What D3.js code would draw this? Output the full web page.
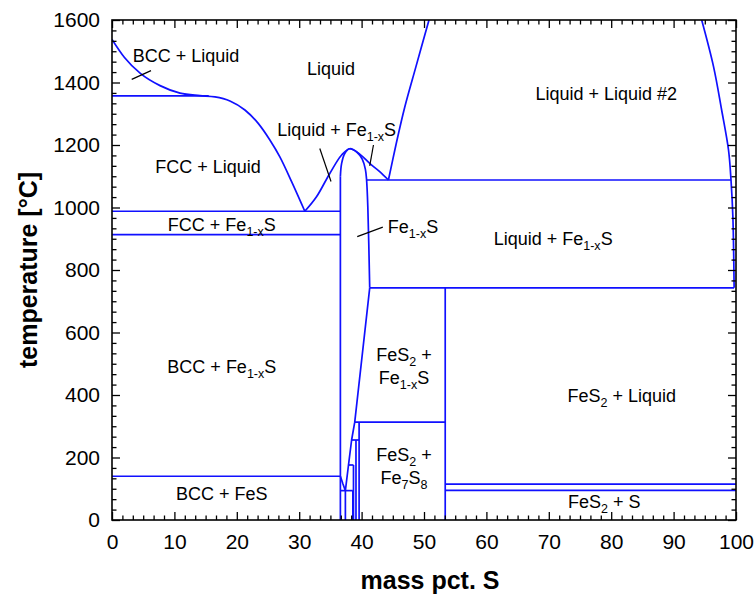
<!DOCTYPE html>
<html>
<head>
<meta charset="utf-8">
<script src="https://cdn.jsdelivr.net/npm/d3@7"></script>
<style>
  html, body { margin: 0; padding: 0; background: #fff; }
  svg { display: block; }
  text { font-family: "Liberation Sans", Arial, sans-serif; fill: #000; }
</style>
</head>
<body>
<svg id="chart" width="755" height="597"></svg>
<script>
// Fe–S phase diagram: composition in mass pct. S, temperature in °C

// axis ticks
const xTicks = [0, 10, 20, 30, 40, 50, 60, 70, 80, 90, 100];
const yTicks = [0, 200, 400, 600, 800, 1000, 1200, 1400, 1600];

// liquidus of the iron-rich liquid (BCC then FCC), down to the eutectic
const ironLiquidus = [[0,1538],[2,1480],[4.5,1430],[7.7,1390],[10.9,1366],[14.1,1358],[16.5,1354],
  [18.9,1341],[21.3,1312],[23.4,1270],[25.3,1216],[26.9,1162],[28.8,1082],[30.9,988]];

// liquidus of Fe1-xS (congruent maximum near 1188 °C)
const sulfideLiquidus = [[30.9,988],[32.8,1035],[34.9,1109],[36.8,1168],[38.1,1188],
  [39.7,1171],[41.3,1141],[42.9,1115],[44.3,1088]];

// solidus cap of Fe1-xS
const sulfideSolidus = [[36.6,1100],[36.8,1141],[37.3,1173],[38.1,1188],[39.3,1176],
  [40.1,1155],[40.6,1123],[40.8,1088],[41.0,1000],[41.3,743]];

// sulfur-rich limit of Fe1-xS below 743 °C
const sulfideSRich = [[41.3,743],[38.9,313],[38.4,256],[37.9,176],[37.4,94]];

// iron-rich limit of the low-temperature sulfide below 140 °C
const sulfideLow = [[36.6,140],[37.0,116],[37.4,94]];

// liquid miscibility gap
const gapLeft = [[44.3,1088],[45.5,1200],[46.9,1320],[48.7,1450],[50.8,1600]];
const gapRight = [[94.5,1600],[96.4,1451],[97.7,1312],[98.8,1184],[99.2,1088],[99.5,970],[99.7,743]];

// invariant horizontals: [x from, x to, temperature]
const isotherms = [
  [0, 15.5, 1357],
  [0, 36.6, 988],
  [0, 36.6, 913],
  [0, 36.6, 140],
  [40.8, 99.2, 1088],
  [41.3, 99.7, 743],
  [38.9, 53.4, 313],
  [38.4, 39.6, 256],
  [37.9, 38.7, 176],
  [36.6, 38.6, 94],
  [53.4, 100, 115],
  [53.4, 100, 95]
];

// phase limits at fixed composition: [x, T from, T to]
const isopleths = [
  [36.6, 0, 1100],
  [37.4, 0, 94],
  [38.6, 0, 94],
  [38.7, 0, 176],
  [39.1, 0, 256],
  [39.6, 0, 313],
  [53.4, 0, 743]
];

// phase field names; parts flagged "sub" are subscripts
const fieldLabels = [
  {x: 11.86, t: 1466, anchor: "middle", parts: [["BCC + Liquid"]]},
  {x: 35.1,  t: 1424, anchor: "middle", parts: [["Liquid"]]},
  {x: 79.2,  t: 1344, anchor: "middle", parts: [["Liquid + Liquid #2"]]},
  {x: 36.0,  t: 1228, anchor: "middle", parts: [["Liquid + Fe"],["1-x","sub"],["S"]]},
  {x: 15.4,  t: 1110, anchor: "middle", parts: [["FCC + Liquid"]]},
  {x: 17.6,  t: 925,  anchor: "middle", parts: [["FCC + Fe"],["1-x","sub"],["S"]]},
  {x: 44.2,  t: 918,  anchor: "start",  parts: [["Fe"],["1-x","sub"],["S"]]},
  {x: 70.7,  t: 880,  anchor: "middle", parts: [["Liquid + Fe"],["1-x","sub"],["S"]]},
  {x: 17.6,  t: 470,  anchor: "middle", parts: [["BCC + Fe"],["1-x","sub"],["S"]]},
  {x: 46.8,  t: 509,  anchor: "middle", parts: [["FeS"],["2","sub"],[" +"]]},
  {x: 46.8,  t: 435,  anchor: "middle", parts: [["Fe"],["1-x","sub"],["S"]]},
  {x: 81.7,  t: 378,  anchor: "middle", parts: [["FeS"],["2","sub"],[" + Liquid"]]},
  {x: 46.8,  t: 190,  anchor: "middle", parts: [["FeS"],["2","sub"],[" +"]]},
  {x: 46.8,  t: 116,  anchor: "middle", parts: [["Fe"],["7","sub"],["S"],["8","sub"]]},
  {x: 17.6,  t: 64,   anchor: "middle", parts: [["BCC + FeS"]]},
  {x: 78.9,  t: 38,   anchor: "middle", parts: [["FeS"],["2","sub"],[" + S"]]}
];

// leader lines tying labels to narrow fields
const leaders = [
  [[3.16,1410],[6.25,1438]],
  [[33.3,1189],[35.1,1083]],
  [[41.9,1200],[41.3,1133]],
  [[39.3,907],[43.4,937]]
];

const m = {left: 112, right: 736, top: 20, bottom: 520};
const svg = d3.select("#chart");

const x = d3.scaleLinear().domain([0, 100]).range([m.left, m.right]);
const y = d3.scaleLinear().domain([0, 1600]).range([m.bottom, m.top]);

svg.append("defs").append("clipPath").attr("id", "plot")
  .append("rect").attr("x", m.left).attr("y", m.top)
  .attr("width", m.right - m.left).attr("height", m.bottom - m.top);

const g = svg.append("g").attr("clip-path", "url(#plot)");
const blue = "#1010ff";
const lw = 1.7;

const lineLin = d3.line().x(d => x(d[0])).y(d => y(d[1]));
const lineSmooth = d3.line().x(d => x(d[0])).y(d => y(d[1])).curve(d3.curveMonotoneX);
const lineCR = d3.line().x(d => x(d[0])).y(d => y(d[1])).curve(d3.curveCatmullRom.alpha(0.5));

function path(data, gen) {
  g.append("path").attr("d", gen(data)).attr("fill", "none")
    .attr("stroke", blue).attr("stroke-width", lw).attr("stroke-linejoin", "round");
}

isotherms.forEach(([a, b, t]) => path([[a, t], [b, t]], lineLin));
isopleths.forEach(([c, t0, t1]) => path([[c, t0], [c, t1]], lineLin));
path(ironLiquidus, lineSmooth);
path(sulfideLiquidus, lineSmooth);
path(sulfideSolidus, lineCR);
path(sulfideSRich, lineLin);
path(sulfideLow, lineLin);
path(gapLeft, lineCR);
path(gapRight, lineCR);

// leaders
leaders.forEach(l => svg.append("path").attr("d", lineLin(l))
  .attr("stroke", "#000").attr("stroke-width", 1.2).attr("fill", "none"));

// field names
const fs = 18, subFs = 12.5, subDy = 5;
fieldLabels.forEach(lb => {
  const t = svg.append("text").attr("x", x(lb.x)).attr("y", y(lb.t))
    .attr("text-anchor", lb.anchor).attr("font-size", fs);
  let shifted = false;
  lb.parts.forEach(([s, kind]) => {
    const sp = t.append("tspan").text(s);
    if (kind === "sub") {
      sp.attr("font-size", subFs).attr("dy", shifted ? 0 : subDy);
      shifted = true;
    } else {
      if (shifted) sp.attr("dy", -subDy);
      shifted = false;
    }
  });
});

// axes with inward ticks on all sides
const minorX = d3.range(0, 100.001, 10 / 6).filter(v => Math.abs(v / 10 - Math.round(v / 10)) > 1e-6);
const minorY = d3.range(0, 1600.001, 200 / 6).filter(v => Math.abs(v / 200 - Math.round(v / 200)) > 1e-6);
const major = 8, minor = 4.5;

function styleAxis(sel) {
  sel.select(".domain").remove();
  sel.selectAll(".tick line").attr("stroke", "#000").attr("stroke-width", 1.3);
  sel.selectAll("text").attr("font-size", 21).attr("fill", "#000")
    .attr("font-family", "'Liberation Sans', Arial, sans-serif");
}

svg.append("g").attr("transform", `translate(0,${m.bottom})`)
  .call(d3.axisBottom(x).tickValues(xTicks).tickSize(-major).tickPadding(14).tickFormat(d3.format("d")))
  .call(styleAxis);
svg.append("g").attr("transform", `translate(0,${m.bottom})`)
  .call(d3.axisBottom(x).tickValues(minorX).tickSize(-minor).tickFormat(""))
  .call(styleAxis);
svg.append("g").attr("transform", `translate(0,${m.top})`)
  .call(d3.axisTop(x).tickValues(xTicks).tickSize(-major).tickFormat(""))
  .call(styleAxis);
svg.append("g").attr("transform", `translate(0,${m.top})`)
  .call(d3.axisTop(x).tickValues(minorX).tickSize(-minor).tickFormat(""))
  .call(styleAxis);

svg.append("g").attr("transform", `translate(${m.left},0)`)
  .call(d3.axisLeft(y).tickValues(yTicks).tickSize(-major).tickPadding(12).tickFormat(d3.format("d")))
  .call(styleAxis);
svg.append("g").attr("transform", `translate(${m.left},0)`)
  .call(d3.axisLeft(y).tickValues(minorY).tickSize(-minor).tickFormat(""))
  .call(styleAxis);
svg.append("g").attr("transform", `translate(${m.right},0)`)
  .call(d3.axisRight(y).tickValues(yTicks).tickSize(-major).tickFormat(""))
  .call(styleAxis);
svg.append("g").attr("transform", `translate(${m.right},0)`)
  .call(d3.axisRight(y).tickValues(minorY).tickSize(-minor).tickFormat(""))
  .call(styleAxis);

// frame
svg.append("rect").attr("x", m.left).attr("y", m.top)
  .attr("width", m.right - m.left).attr("height", m.bottom - m.top)
  .attr("fill", "none").attr("stroke", "#000").attr("stroke-width", 1.6);

// axis titles
svg.append("text").attr("x", (m.left + m.right) / 2 + 6).attr("y", 589)
  .attr("text-anchor", "middle").attr("font-size", 25).attr("font-weight", "bold")
  .text("mass pct. S");
svg.append("text").attr("transform", `translate(37,${(m.top + m.bottom) / 2}) rotate(-90)`)
  .attr("text-anchor", "middle").attr("font-size", 25).attr("font-weight", "bold")
  .text("temperature [°C]");
</script>
</body>
</html>
